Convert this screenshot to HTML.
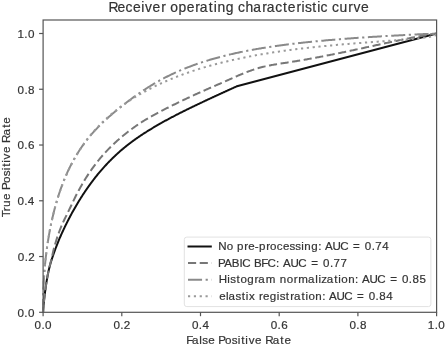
<!DOCTYPE html>
<html><head><meta charset="utf-8"><style>
html,body{margin:0;padding:0;background:#fff;width:445px;height:345px;overflow:hidden}
svg{display:block;filter:grayscale(1) blur(0.35px)}
text{font-family:"Liberation Sans",sans-serif;fill:#333;stroke:#333;stroke-width:0.2px}
</style></head><body>
<svg width="445" height="345" viewBox="0 0 445 345">
<rect width="445" height="345" fill="#fff"/>
<g>
<path d="M43.10,312.30 L43.10,312.16 L43.10,312.15 L43.10,312.14 L43.10,312.14 L43.10,312.13 L43.11,312.12 L43.11,312.11 L43.11,312.10 L43.11,312.09 L43.11,312.08 L43.11,312.07 L43.11,312.06 L43.11,312.05 L43.11,312.03 L43.11,312.02 L43.11,312.01 L43.11,311.99 L43.11,311.98 L43.11,311.96 L43.11,311.94 L43.11,311.93 L43.11,311.91 L43.11,311.89 L43.11,311.87 L43.12,311.85 L43.12,311.82 L43.12,311.80 L43.12,311.78 L43.12,311.75 L43.12,311.72 L43.12,311.70 L43.12,311.67 L43.12,311.64 L43.13,311.60 L43.13,311.57 L43.13,311.53 L43.13,311.50 L43.13,311.46 L43.13,311.42 L43.14,311.37 L43.14,311.33 L43.14,311.28 L43.14,311.23 L43.15,311.18 L43.15,311.13 L43.15,311.07 L43.15,311.02 L43.16,310.95 L43.16,310.89 L43.16,310.82 L43.17,310.75 L43.17,310.68 L43.18,310.60 L43.18,310.52 L43.19,310.44 L43.19,310.35 L43.20,310.26 L43.20,310.16 L43.21,310.06 L43.21,309.96 L43.22,309.85 L43.23,309.73 L43.24,309.61 L43.24,309.49 L43.25,309.36 L43.26,309.22 L43.27,309.08 L43.28,308.93 L43.29,308.78 L43.30,308.61 L43.32,308.45 L43.33,308.27 L43.34,308.08 L43.36,307.89 L43.37,307.69 L43.39,307.48 L43.40,307.26 L43.42,307.03 L43.44,306.80 L43.46,306.55 L43.48,306.29 L43.50,306.02 L43.53,305.74 L43.55,305.44 L43.58,305.14 L43.61,304.82 L43.64,304.49 L43.67,304.14 L43.70,303.78 L43.74,303.41 L43.77,303.01 L43.81,302.61 L43.86,302.18 L43.90,301.74 L43.95,301.28 L44.00,300.80 L44.05,300.31 L44.11,299.79 L44.17,299.25 L44.23,298.69 L44.30,298.11 L44.37,297.50 L44.44,296.87 L44.52,296.22 L44.60,295.54 L44.69,294.83 L44.78,294.10 L44.88,293.33 L44.99,292.54 L45.10,291.72 L45.22,290.87 L45.34,289.98 L45.47,289.00 L45.61,287.96 L45.76,286.90 L45.92,285.80 L46.08,284.67 L46.26,283.52 L46.44,282.33 L46.64,281.12 L46.85,279.88 L47.07,278.61 L47.30,277.32 L47.55,276.00 L47.81,274.66 L48.09,273.29 L48.38,271.91 L48.69,270.50 L49.02,269.08 L49.37,267.65 L49.74,266.22 L50.13,264.78 L50.55,263.32 L50.98,261.84 L51.45,260.33 L51.94,258.80 L52.46,257.22 L53.01,255.60 L53.59,253.93 L54.21,252.19 L54.86,250.37 L55.55,248.49 L56.29,246.55 L57.06,244.56 L57.88,242.51 L58.75,240.40 L59.67,238.23 L60.65,235.99 L61.68,233.68 L62.78,231.29 L63.21,230.35 L63.65,229.42 L64.08,228.49 L64.52,227.58 L64.96,226.67 L65.39,225.77 L65.83,224.88 L66.27,223.99 L66.70,223.11 L67.14,222.24 L67.58,221.38 L68.01,220.52 L68.45,219.67 L68.88,218.82 L69.32,217.99 L69.76,217.16 L70.19,216.33 L70.63,215.52 L71.07,214.71 L71.50,213.90 L71.94,213.10 L72.38,212.31 L72.81,211.53 L73.25,210.75 L73.69,209.98 L74.12,209.21 L74.56,208.45 L74.99,207.69 L75.43,206.93 L75.87,206.18 L76.30,205.44 L76.74,204.70 L77.18,203.96 L77.61,203.23 L78.05,202.50 L78.49,201.78 L78.92,201.07 L79.36,200.35 L79.79,199.65 L80.23,198.94 L80.67,198.25 L81.10,197.55 L81.54,196.87 L81.98,196.18 L82.41,195.51 L82.85,194.83 L83.29,194.17 L83.72,193.50 L84.16,192.85 L84.60,192.19 L85.03,191.55 L85.47,190.91 L85.90,190.27 L86.34,189.64 L86.78,189.01 L87.21,188.38 L87.65,187.76 L88.09,187.14 L88.52,186.52 L88.96,185.91 L89.40,185.30 L89.83,184.70 L90.27,184.10 L90.70,183.50 L91.14,182.91 L91.58,182.32 L92.01,181.73 L92.45,181.15 L92.89,180.57 L93.32,179.99 L93.76,179.42 L94.20,178.86 L94.63,178.29 L95.07,177.73 L95.51,177.18 L95.94,176.63 L96.38,176.08 L96.81,175.54 L97.25,175.00 L97.69,174.46 L98.12,173.93 L98.56,173.40 L99.00,172.88 L99.43,172.36 L99.87,171.85 L100.31,171.33 L100.74,170.83 L101.18,170.32 L101.61,169.82 L102.05,169.33 L102.49,168.83 L102.92,168.34 L103.36,167.85 L103.80,167.37 L104.23,166.89 L104.67,166.41 L105.11,165.93 L105.54,165.46 L105.98,164.99 L106.42,164.52 L106.85,164.05 L107.29,163.59 L107.72,163.13 L108.16,162.67 L108.60,162.22 L109.03,161.77 L109.47,161.32 L109.91,160.88 L110.34,160.43 L110.78,159.99 L111.22,159.56 L111.65,159.12 L112.09,158.69 L112.52,158.26 L112.96,157.83 L113.40,157.41 L113.83,156.99 L114.27,156.57 L114.71,156.16 L115.14,155.74 L115.58,155.33 L116.02,154.92 L116.45,154.52 L116.89,154.12 L117.33,153.72 L117.76,153.32 L118.20,152.92 L118.63,152.53 L119.07,152.14 L119.51,151.75 L119.94,151.37 L120.38,150.99 L120.82,150.61 L121.25,150.23 L121.69,149.86 L122.13,149.48 L122.56,149.11 L123.00,148.75 L123.43,148.38 L123.87,148.02 L124.31,147.66 L124.74,147.31 L125.18,146.95 L125.62,146.60 L126.05,146.25 L126.49,145.91 L126.93,145.56 L127.36,145.22 L127.80,144.88 L128.24,144.54 L128.67,144.20 L129.11,143.86 L129.54,143.53 L129.98,143.20 L130.42,142.87 L130.85,142.54 L131.29,142.21 L131.73,141.89 L132.16,141.56 L132.60,141.24 L133.04,140.92 L133.47,140.60 L133.91,140.28 L134.34,139.96 L134.78,139.65 L135.22,139.34 L135.65,139.03 L136.09,138.72 L136.53,138.41 L136.96,138.10 L137.40,137.80 L137.84,137.50 L138.27,137.20 L138.71,136.90 L139.15,136.60 L139.58,136.31 L140.02,136.01 L140.45,135.72 L140.89,135.43 L141.33,135.14 L141.76,134.85 L142.20,134.56 L142.64,134.27 L143.07,133.99 L143.51,133.70 L143.95,133.42 L144.38,133.14 L144.82,132.86 L145.25,132.58 L145.69,132.30 L146.13,132.03 L146.56,131.75 L147.00,131.47 L147.44,131.20 L147.87,130.93 L148.31,130.66 L148.75,130.39 L149.18,130.12 L149.62,129.85 L150.06,129.58 L150.49,129.31 L150.93,129.05 L151.36,128.78 L151.80,128.52 L152.24,128.26 L152.67,128.00 L153.11,127.73 L153.55,127.47 L153.98,127.22 L154.42,126.96 L154.86,126.70 L155.29,126.44 L155.73,126.19 L156.16,125.93 L156.60,125.68 L157.04,125.42 L157.47,125.17 L157.91,124.92 L158.35,124.67 L158.78,124.42 L159.22,124.17 L159.66,123.92 L160.09,123.67 L160.53,123.42 L160.97,123.18 L161.40,122.93 L161.84,122.69 L162.27,122.44 L162.71,122.20 L163.15,121.95 L163.58,121.71 L164.02,121.47 L164.46,121.23 L164.89,120.98 L165.33,120.74 L165.77,120.50 L166.20,120.26 L166.64,120.03 L167.07,119.79 L167.51,119.55 L167.95,119.32 L168.38,119.08 L168.82,118.85 L169.26,118.61 L169.69,118.38 L170.13,118.15 L170.57,117.92 L171.00,117.68 L171.44,117.45 L171.88,117.22 L172.31,117.00 L172.75,116.77 L173.18,116.54 L173.62,116.31 L174.06,116.09 L174.49,115.86 L174.93,115.63 L175.37,115.41 L175.80,115.18 L176.24,114.96 L176.68,114.73 L177.11,114.51 L177.55,114.29 L177.98,114.06 L178.42,113.84 L178.86,113.62 L179.29,113.40 L179.73,113.17 L180.17,112.95 L180.60,112.73 L181.04,112.51 L181.48,112.29 L181.91,112.07 L182.35,111.85 L182.79,111.63 L183.22,111.41 L183.66,111.19 L184.09,110.98 L184.53,110.76 L184.97,110.54 L185.40,110.33 L185.84,110.11 L186.28,109.90 L186.71,109.68 L187.15,109.47 L187.59,109.25 L188.02,109.04 L188.46,108.82 L188.89,108.61 L189.33,108.40 L189.77,108.19 L190.20,107.97 L190.64,107.76 L191.08,107.55 L191.51,107.34 L191.95,107.13 L192.39,106.92 L192.82,106.71 L193.26,106.50 L193.70,106.29 L194.13,106.08 L194.57,105.87 L195.00,105.66 L195.44,105.45 L195.88,105.24 L196.31,105.03 L196.75,104.82 L197.19,104.61 L197.62,104.40 L198.06,104.19 L198.50,103.99 L198.93,103.78 L199.37,103.57 L199.80,103.36 L200.24,103.15 L200.68,102.95 L201.11,102.74 L201.55,102.53 L201.99,102.33 L202.42,102.12 L202.86,101.91 L203.30,101.71 L203.73,101.50 L204.17,101.30 L204.61,101.09 L205.04,100.89 L205.48,100.68 L205.91,100.48 L206.35,100.27 L206.79,100.07 L207.22,99.87 L207.66,99.66 L208.10,99.46 L208.53,99.26 L208.97,99.05 L209.41,98.85 L209.84,98.65 L210.28,98.45 L210.71,98.24 L211.15,98.04 L211.59,97.84 L212.02,97.64 L212.46,97.44 L212.90,97.23 L213.33,97.03 L213.77,96.83 L214.21,96.63 L214.64,96.43 L215.08,96.23 L215.52,96.03 L215.95,95.83 L216.39,95.63 L216.82,95.43 L217.26,95.23 L217.70,95.03 L218.13,94.82 L218.57,94.62 L219.01,94.42 L219.44,94.22 L219.88,94.02 L220.32,93.82 L220.75,93.62 L221.19,93.42 L221.62,93.22 L222.06,93.02 L222.50,92.83 L222.93,92.63 L223.37,92.43 L223.81,92.23 L224.24,92.03 L224.68,91.83 L225.12,91.63 L225.55,91.43 L225.99,91.23 L226.43,91.03 L226.86,90.83 L227.30,90.63 L227.73,90.43 L228.17,90.23 L228.61,90.03 L229.04,89.84 L229.48,89.64 L229.92,89.44 L230.35,89.24 L230.79,89.04 L231.23,88.84 L231.66,88.65 L232.10,88.45 L232.53,88.25 L232.97,88.05 L233.41,87.86 L233.84,87.66 L234.28,87.46 L234.72,87.26 L235.15,87.07 L235.59,86.87 L236.03,86.68 L236.46,86.48 L236.90,86.28 L436.60,33.50" stroke="#111" stroke-width="2.0" fill="none" stroke-linejoin="round" />
<path d="M43.10,312.30 L43.10,312.19 L43.10,312.18 L43.10,312.17 L43.10,312.17 L43.10,312.16 L43.11,312.15 L43.11,312.15 L43.11,312.14 L43.11,312.13 L43.11,312.12 L43.11,312.11 L43.11,312.10 L43.11,312.09 L43.11,312.08 L43.11,312.07 L43.11,312.06 L43.11,312.04 L43.11,312.03 L43.11,312.02 L43.11,312.00 L43.11,311.99 L43.11,311.97 L43.11,311.95 L43.11,311.94 L43.12,311.92 L43.12,311.90 L43.12,311.88 L43.12,311.85 L43.12,311.83 L43.12,311.81 L43.12,311.78 L43.12,311.76 L43.12,311.73 L43.13,311.70 L43.13,311.67 L43.13,311.64 L43.13,311.60 L43.13,311.57 L43.13,311.53 L43.14,311.49 L43.14,311.45 L43.14,311.41 L43.14,311.36 L43.15,311.32 L43.15,311.27 L43.15,311.22 L43.15,311.16 L43.16,311.11 L43.16,311.05 L43.16,310.99 L43.17,310.92 L43.17,310.85 L43.18,310.78 L43.18,310.71 L43.19,310.63 L43.19,310.54 L43.20,310.46 L43.20,310.37 L43.21,310.27 L43.21,310.17 L43.22,310.07 L43.23,309.96 L43.24,309.85 L43.24,309.73 L43.25,309.61 L43.26,309.48 L43.27,309.34 L43.28,309.20 L43.29,309.05 L43.30,308.89 L43.32,308.73 L43.33,308.56 L43.34,308.38 L43.36,308.20 L43.37,308.00 L43.39,307.80 L43.40,307.59 L43.42,307.36 L43.44,307.13 L43.46,306.89 L43.48,306.64 L43.50,306.37 L43.53,306.10 L43.55,305.81 L43.58,305.51 L43.61,305.19 L43.64,304.86 L43.67,304.52 L43.70,304.17 L43.74,303.79 L43.77,303.41 L43.81,303.00 L43.86,302.58 L43.90,302.14 L43.95,301.68 L44.00,301.20 L44.05,300.71 L44.11,300.19 L44.17,299.65 L44.23,299.08 L44.30,298.50 L44.37,297.89 L44.44,297.25 L44.52,296.59 L44.60,295.90 L44.69,295.19 L44.78,294.45 L44.88,293.67 L44.99,292.87 L45.10,292.03 L45.22,291.16 L45.34,290.26 L45.47,289.28 L45.61,288.25 L45.76,287.19 L45.92,286.09 L46.08,284.96 L46.26,283.80 L46.44,282.60 L46.64,281.37 L46.85,280.10 L47.07,278.80 L47.30,277.47 L47.55,276.09 L47.81,274.69 L48.09,273.24 L48.38,271.76 L48.69,270.24 L49.02,268.72 L49.37,267.22 L49.74,265.72 L50.13,264.18 L50.55,262.58 L50.98,260.90 L51.45,259.08 L51.94,257.09 L52.46,254.80 L53.01,252.21 L53.59,249.79 L54.21,247.42 L54.86,245.04 L55.55,242.67 L56.29,240.29 L57.06,237.89 L57.88,235.46 L58.75,233.01 L59.67,230.51 L60.65,227.99 L61.68,225.50 L62.78,223.03 L63.71,221.00 L64.65,219.03 L65.59,217.10 L66.52,215.19 L67.46,213.27 L68.40,211.35 L69.33,209.41 L70.27,207.45 L71.21,205.48 L72.14,203.51 L73.08,201.55 L74.02,199.61 L74.95,197.69 L75.89,195.81 L76.83,193.97 L77.77,192.18 L78.70,190.43 L79.64,188.73 L80.58,187.06 L81.51,185.41 L82.45,183.79 L83.39,182.20 L84.32,180.63 L85.26,179.09 L86.20,177.59 L87.13,176.11 L88.07,174.66 L89.01,173.24 L89.95,171.86 L90.88,170.50 L91.82,169.18 L92.76,167.87 L93.69,166.59 L94.63,165.33 L95.57,164.09 L96.50,162.88 L97.44,161.68 L98.38,160.50 L99.31,159.35 L100.25,158.22 L101.19,157.10 L102.12,156.01 L103.06,154.93 L104.00,153.88 L104.94,152.84 L105.87,151.83 L106.81,150.83 L107.75,149.85 L108.68,148.89 L109.62,147.94 L110.56,147.00 L111.49,146.08 L112.43,145.17 L113.37,144.28 L114.30,143.40 L115.24,142.53 L116.18,141.67 L117.12,140.82 L118.05,139.99 L118.99,139.17 L119.93,138.36 L120.86,137.56 L121.80,136.77 L122.74,135.99 L123.67,135.22 L124.61,134.46 L125.55,133.71 L126.48,132.97 L127.42,132.24 L128.36,131.51 L129.30,130.80 L130.23,130.10 L131.17,129.40 L132.11,128.71 L133.04,128.03 L133.98,127.36 L134.92,126.70 L135.85,126.04 L136.79,125.39 L137.73,124.75 L138.66,124.12 L139.60,123.49 L140.54,122.87 L141.47,122.26 L142.41,121.66 L143.35,121.07 L144.29,120.49 L145.22,119.91 L146.16,119.34 L147.10,118.78 L148.03,118.23 L148.97,117.69 L149.91,117.15 L150.84,116.61 L151.78,116.08 L152.72,115.56 L153.65,115.04 L154.59,114.53 L155.53,114.02 L156.47,113.52 L157.40,113.02 L158.34,112.52 L159.28,112.03 L160.21,111.54 L161.15,111.06 L162.09,110.58 L163.02,110.10 L163.96,109.62 L164.90,109.15 L165.83,108.67 L166.77,108.20 L167.71,107.74 L168.65,107.27 L169.58,106.80 L170.52,106.34 L171.46,105.88 L172.39,105.42 L173.33,104.96 L174.27,104.50 L175.20,104.04 L176.14,103.58 L177.08,103.12 L178.01,102.66 L178.95,102.21 L179.89,101.75 L180.82,101.29 L181.76,100.84 L182.70,100.39 L183.64,99.94 L184.57,99.49 L185.51,99.05 L186.45,98.60 L187.38,98.16 L188.32,97.72 L189.26,97.29 L190.19,96.85 L191.13,96.42 L192.07,95.99 L193.00,95.56 L193.94,95.13 L194.88,94.71 L195.82,94.28 L196.75,93.86 L197.69,93.44 L198.63,93.02 L199.56,92.60 L200.50,92.18 L201.44,91.76 L202.37,91.34 L203.31,90.93 L204.25,90.51 L205.18,90.10 L206.12,89.69 L207.06,89.27 L208.00,88.86 L208.93,88.45 L209.87,88.04 L210.81,87.63 L211.74,87.22 L212.68,86.81 L213.62,86.41 L214.55,86.00 L215.49,85.59 L216.43,85.18 L217.36,84.78 L218.30,84.37 L219.24,83.97 L220.17,83.56 L221.11,83.15 L222.05,82.74 L222.99,82.32 L223.92,81.90 L224.86,81.48 L225.80,81.06 L226.73,80.64 L227.67,80.22 L228.61,79.80 L229.54,79.39 L230.48,78.97 L231.42,78.55 L232.35,78.13 L233.29,77.72 L234.23,77.30 L235.17,76.89 L236.10,76.48 L237.04,76.07 L237.98,75.67 L238.91,75.27 L239.85,74.88 L240.79,74.49 L241.72,74.11 L242.66,73.72 L243.60,73.34 L244.53,72.96 L245.47,72.58 L246.41,72.22 L247.35,71.85 L248.28,71.50 L249.22,71.16 L250.16,70.82 L251.09,70.50 L252.03,70.17 L252.97,69.85 L253.90,69.54 L254.84,69.23 L255.78,68.93 L256.71,68.64 L257.65,68.35 L258.59,68.07 L259.52,67.80 L260.46,67.54 L261.40,67.30 L262.34,67.06 L263.27,66.84 L264.21,66.62 L265.15,66.40 L266.08,66.19 L267.02,65.99 L267.96,65.80 L268.89,65.60 L269.83,65.42 L270.77,65.24 L271.70,65.06 L272.64,64.88 L273.58,64.71 L274.52,64.55 L275.45,64.39 L276.39,64.24 L277.33,64.08 L278.26,63.94 L279.20,63.79 L280.14,63.65 L281.07,63.50 L282.01,63.36 L282.95,63.22 L283.88,63.07 L284.82,62.93 L285.76,62.79 L286.70,62.64 L287.63,62.50 L288.57,62.35 L289.51,62.21 L290.44,62.06 L291.38,61.91 L292.32,61.76 L293.25,61.61 L294.19,61.46 L295.13,61.31 L296.06,61.15 L297.00,61.00 L297.94,60.84 L298.88,60.69 L299.81,60.53 L300.75,60.37 L301.69,60.21 L302.62,60.05 L303.56,59.89 L304.50,59.73 L305.43,59.56 L306.37,59.40 L307.31,59.23 L308.24,59.06 L309.18,58.89 L310.12,58.72 L311.05,58.55 L311.99,58.38 L312.93,58.20 L313.87,58.03 L314.80,57.86 L315.74,57.68 L316.68,57.51 L317.61,57.33 L318.55,57.15 L319.49,56.98 L320.42,56.80 L321.36,56.62 L322.30,56.44 L323.23,56.26 L324.17,56.08 L325.11,55.90 L326.05,55.72 L326.98,55.54 L327.92,55.35 L328.86,55.17 L329.79,54.99 L330.73,54.80 L331.67,54.62 L332.60,54.43 L333.54,54.24 L334.48,54.06 L335.41,53.87 L336.35,53.68 L337.29,53.49 L338.23,53.30 L339.16,53.11 L340.10,52.92 L341.04,52.73 L341.97,52.54 L342.91,52.34 L343.85,52.15 L344.78,51.96 L345.72,51.76 L346.66,51.56 L347.59,51.37 L348.53,51.17 L349.47,50.97 L350.40,50.77 L351.34,50.57 L352.28,50.38 L353.22,50.18 L354.15,49.97 L355.09,49.77 L356.03,49.57 L356.96,49.37 L357.90,49.17 L358.84,48.97 L359.77,48.76 L360.71,48.56 L361.65,48.36 L362.58,48.15 L363.52,47.95 L364.46,47.75 L365.40,47.54 L366.33,47.34 L367.27,47.13 L368.21,46.93 L369.14,46.73 L370.08,46.52 L371.02,46.32 L371.95,46.11 L372.89,45.91 L373.83,45.71 L374.76,45.50 L375.70,45.30 L376.64,45.10 L377.57,44.90 L378.51,44.70 L379.45,44.49 L380.39,44.29 L381.32,44.09 L382.26,43.89 L383.20,43.69 L384.13,43.49 L385.07,43.29 L386.01,43.09 L386.94,42.89 L387.88,42.69 L388.82,42.49 L389.75,42.29 L390.69,42.09 L391.63,41.90 L392.57,41.70 L393.50,41.50 L394.44,41.30 L395.38,41.10 L396.31,40.91 L397.25,40.71 L398.19,40.51 L399.12,40.31 L400.06,40.12 L401.00,39.92 L401.93,39.73 L402.87,39.53 L403.81,39.34 L404.75,39.14 L405.68,38.95 L406.62,38.75 L407.56,38.56 L408.49,38.37 L409.43,38.18 L410.37,37.99 L411.30,37.79 L412.24,37.60 L413.18,37.42 L414.11,37.23 L415.05,37.04 L415.99,36.87 L416.93,36.70 L417.86,36.53 L418.80,36.36 L419.74,36.19 L420.67,36.03 L421.61,35.86 L422.55,35.70 L423.48,35.54 L424.42,35.38 L425.36,35.23 L426.29,35.07 L427.23,34.92 L428.17,34.76 L429.10,34.61 L430.04,34.47 L430.98,34.32 L431.92,34.18 L432.85,34.04 L433.79,33.90 L434.73,33.76 L435.66,33.63 L436.60,33.50" stroke="#777" stroke-width="2.0" fill="none" stroke-dasharray="8.14 3.57" stroke-dashoffset="1.2" />
<path d="M43.10,312.30 L43.10,309.52 L43.10,309.44 L43.10,309.36 L43.10,309.27 L43.10,309.19 L43.11,309.10 L43.11,309.01 L43.11,308.92 L43.11,308.82 L43.11,308.72 L43.11,308.62 L43.11,308.52 L43.11,308.41 L43.11,308.30 L43.11,308.19 L43.11,308.08 L43.11,307.96 L43.11,307.84 L43.11,307.71 L43.11,307.58 L43.11,307.45 L43.11,307.32 L43.11,307.18 L43.11,307.04 L43.12,306.89 L43.12,306.74 L43.12,306.59 L43.12,306.43 L43.12,306.27 L43.12,306.10 L43.12,305.93 L43.12,305.75 L43.12,305.57 L43.13,305.39 L43.13,305.20 L43.13,305.00 L43.13,304.80 L43.13,304.60 L43.13,304.39 L43.14,304.17 L43.14,303.95 L43.14,303.72 L43.14,303.49 L43.15,303.25 L43.15,303.00 L43.15,302.75 L43.15,302.49 L43.16,302.23 L43.16,301.96 L43.16,301.68 L43.17,301.39 L43.17,301.10 L43.18,300.80 L43.18,300.49 L43.19,300.17 L43.19,299.85 L43.20,299.51 L43.20,299.17 L43.21,298.82 L43.21,298.46 L43.22,298.09 L43.23,297.72 L43.24,297.33 L43.24,296.93 L43.25,296.53 L43.26,296.11 L43.27,295.68 L43.28,295.25 L43.29,294.80 L43.30,294.34 L43.32,293.87 L43.33,293.38 L43.34,292.89 L43.36,292.38 L43.37,291.86 L43.39,291.33 L43.40,290.79 L43.42,290.23 L43.44,289.66 L43.46,289.08 L43.48,288.48 L43.50,287.86 L43.53,287.24 L43.55,286.59 L43.58,285.93 L43.61,285.26 L43.64,284.57 L43.67,283.86 L43.70,283.14 L43.74,282.40 L43.77,281.64 L43.81,280.87 L43.86,280.08 L43.90,279.27 L43.95,278.44 L44.00,277.59 L44.05,276.72 L44.11,275.83 L44.17,274.92 L44.23,273.99 L44.30,273.04 L44.37,272.07 L44.44,271.08 L44.52,270.06 L44.60,269.08 L44.69,268.07 L44.78,267.02 L44.88,265.95 L44.99,264.85 L45.10,263.71 L45.22,262.55 L45.34,261.35 L45.47,260.11 L45.61,258.85 L45.76,257.54 L45.92,256.20 L46.08,254.82 L46.26,253.41 L46.44,251.96 L46.64,250.47 L46.85,248.93 L47.07,247.34 L47.30,245.71 L47.55,244.02 L47.81,242.29 L48.09,240.51 L48.38,238.67 L48.69,236.80 L49.02,234.87 L49.37,232.90 L49.74,230.89 L50.13,228.83 L50.55,226.73 L50.98,224.57 L51.45,222.36 L51.94,220.09 L52.46,217.77 L53.01,215.41 L53.59,212.99 L54.21,210.54 L54.86,208.03 L55.55,205.48 L56.29,202.87 L57.06,200.22 L57.88,197.52 L58.75,194.77 L59.67,191.99 L60.65,189.17 L61.68,186.30 L62.78,183.40 L63.71,181.00 L64.65,178.69 L65.59,176.46 L66.52,174.30 L67.46,172.21 L68.40,170.20 L69.33,168.24 L70.27,166.34 L71.21,164.50 L72.14,162.71 L73.08,160.96 L74.02,159.27 L74.95,157.62 L75.89,156.02 L76.83,154.46 L77.77,152.94 L78.70,151.45 L79.64,150.01 L80.58,148.60 L81.51,147.22 L82.45,145.87 L83.39,144.56 L84.32,143.27 L85.26,142.02 L86.20,140.79 L87.13,139.59 L88.07,138.42 L89.01,137.27 L89.95,136.14 L90.88,135.04 L91.82,133.95 L92.76,132.89 L93.69,131.85 L94.63,130.82 L95.57,129.81 L96.50,128.82 L97.44,127.84 L98.38,126.88 L99.31,125.93 L100.25,124.99 L101.19,124.07 L102.12,123.16 L103.06,122.26 L104.00,121.37 L104.94,120.50 L105.87,119.63 L106.81,118.78 L107.75,117.93 L108.68,117.09 L109.62,116.26 L110.56,115.44 L111.49,114.63 L112.43,113.82 L113.37,113.02 L114.30,112.23 L115.24,111.45 L116.18,110.67 L117.12,109.90 L118.05,109.14 L118.99,108.38 L119.93,107.63 L120.86,106.88 L121.80,106.13 L122.74,105.40 L123.67,104.66 L124.61,103.94 L125.55,103.22 L126.48,102.50 L127.42,101.79 L128.36,101.08 L129.30,100.38 L130.23,99.68 L131.17,98.98 L132.11,98.29 L133.04,97.61 L133.98,96.93 L134.92,96.25 L135.85,95.59 L136.79,94.93 L137.73,94.27 L138.66,93.62 L139.60,92.97 L140.54,92.34 L141.47,91.70 L142.41,91.07 L143.35,90.45 L144.29,89.83 L145.22,89.21 L146.16,88.61 L147.10,88.01 L148.03,87.41 L148.97,86.82 L149.91,86.24 L150.84,85.67 L151.78,85.10 L152.72,84.53 L153.65,83.97 L154.59,83.42 L155.53,82.87 L156.47,82.33 L157.40,81.79 L158.34,81.26 L159.28,80.73 L160.21,80.21 L161.15,79.70 L162.09,79.19 L163.02,78.69 L163.96,78.19 L164.90,77.70 L165.83,77.22 L166.77,76.74 L167.71,76.26 L168.65,75.80 L169.58,75.33 L170.52,74.88 L171.46,74.43 L172.39,73.98 L173.33,73.54 L174.27,73.10 L175.20,72.67 L176.14,72.25 L177.08,71.83 L178.01,71.41 L178.95,71.00 L179.89,70.60 L180.82,70.20 L181.76,69.81 L182.70,69.42 L183.64,69.03 L184.57,68.65 L185.51,68.27 L186.45,67.90 L187.38,67.53 L188.32,67.17 L189.26,66.81 L190.19,66.45 L191.13,66.10 L192.07,65.75 L193.00,65.40 L193.94,65.06 L194.88,64.73 L195.82,64.39 L196.75,64.06 L197.69,63.74 L198.63,63.41 L199.56,63.10 L200.50,62.78 L201.44,62.47 L202.37,62.16 L203.31,61.86 L204.25,61.56 L205.18,61.26 L206.12,60.96 L207.06,60.67 L208.00,60.38 L208.93,60.10 L209.87,59.82 L210.81,59.54 L211.74,59.26 L212.68,58.99 L213.62,58.72 L214.55,58.46 L215.49,58.19 L216.43,57.93 L217.36,57.68 L218.30,57.42 L219.24,57.17 L220.17,56.93 L221.11,56.68 L222.05,56.44 L222.99,56.20 L223.92,55.96 L224.86,55.73 L225.80,55.49 L226.73,55.26 L227.67,55.04 L228.61,54.81 L229.54,54.59 L230.48,54.37 L231.42,54.15 L232.35,53.93 L233.29,53.72 L234.23,53.51 L235.17,53.30 L236.10,53.09 L237.04,52.88 L237.98,52.68 L238.91,52.48 L239.85,52.28 L240.79,52.08 L241.72,51.89 L242.66,51.70 L243.60,51.51 L244.53,51.32 L245.47,51.13 L246.41,50.95 L247.35,50.76 L248.28,50.58 L249.22,50.40 L250.16,50.23 L251.09,50.05 L252.03,49.88 L252.97,49.71 L253.90,49.54 L254.84,49.37 L255.78,49.21 L256.71,49.04 L257.65,48.88 L258.59,48.72 L259.52,48.56 L260.46,48.41 L261.40,48.25 L262.34,48.10 L263.27,47.95 L264.21,47.80 L265.15,47.65 L266.08,47.50 L267.02,47.35 L267.96,47.21 L268.89,47.06 L269.83,46.92 L270.77,46.78 L271.70,46.64 L272.64,46.50 L273.58,46.37 L274.52,46.23 L275.45,46.10 L276.39,45.96 L277.33,45.83 L278.26,45.70 L279.20,45.57 L280.14,45.44 L281.07,45.32 L282.01,45.19 L282.95,45.06 L283.88,44.94 L284.82,44.82 L285.76,44.70 L286.70,44.57 L287.63,44.45 L288.57,44.34 L289.51,44.22 L290.44,44.10 L291.38,43.98 L292.32,43.87 L293.25,43.76 L294.19,43.64 L295.13,43.53 L296.06,43.42 L297.00,43.31 L297.94,43.20 L298.88,43.10 L299.81,42.99 L300.75,42.89 L301.69,42.78 L302.62,42.68 L303.56,42.58 L304.50,42.48 L305.43,42.38 L306.37,42.28 L307.31,42.18 L308.24,42.09 L309.18,41.99 L310.12,41.89 L311.05,41.80 L311.99,41.70 L312.93,41.61 L313.87,41.52 L314.80,41.43 L315.74,41.33 L316.68,41.24 L317.61,41.15 L318.55,41.06 L319.49,40.98 L320.42,40.89 L321.36,40.80 L322.30,40.71 L323.23,40.63 L324.17,40.54 L325.11,40.46 L326.05,40.37 L326.98,40.29 L327.92,40.21 L328.86,40.12 L329.79,40.04 L330.73,39.96 L331.67,39.88 L332.60,39.80 L333.54,39.72 L334.48,39.64 L335.41,39.56 L336.35,39.49 L337.29,39.41 L338.23,39.33 L339.16,39.26 L340.10,39.18 L341.04,39.11 L341.97,39.03 L342.91,38.96 L343.85,38.89 L344.78,38.81 L345.72,38.74 L346.66,38.67 L347.59,38.60 L348.53,38.53 L349.47,38.46 L350.40,38.39 L351.34,38.32 L352.28,38.25 L353.22,38.18 L354.15,38.12 L355.09,38.05 L356.03,37.98 L356.96,37.92 L357.90,37.85 L358.84,37.79 L359.77,37.73 L360.71,37.66 L361.65,37.60 L362.58,37.54 L363.52,37.47 L364.46,37.41 L365.40,37.35 L366.33,37.29 L367.27,37.23 L368.21,37.17 L369.14,37.11 L370.08,37.05 L371.02,36.99 L371.95,36.93 L372.89,36.87 L373.83,36.81 L374.76,36.75 L375.70,36.69 L376.64,36.64 L377.57,36.58 L378.51,36.52 L379.45,36.46 L380.39,36.41 L381.32,36.35 L382.26,36.30 L383.20,36.24 L384.13,36.19 L385.07,36.13 L386.01,36.08 L386.94,36.02 L387.88,35.97 L388.82,35.92 L389.75,35.86 L390.69,35.81 L391.63,35.75 L392.57,35.70 L393.50,35.65 L394.44,35.60 L395.38,35.54 L396.31,35.49 L397.25,35.44 L398.19,35.39 L399.12,35.34 L400.06,35.29 L401.00,35.24 L401.93,35.18 L402.87,35.13 L403.81,35.08 L404.75,35.03 L405.68,34.98 L406.62,34.94 L407.56,34.89 L408.49,34.84 L409.43,34.79 L410.37,34.74 L411.30,34.69 L412.24,34.64 L413.18,34.60 L414.11,34.55 L415.05,34.50 L415.99,34.46 L416.93,34.41 L417.86,34.37 L418.80,34.32 L419.74,34.28 L420.67,34.23 L421.61,34.19 L422.55,34.14 L423.48,34.10 L424.42,34.06 L425.36,34.01 L426.29,33.97 L427.23,33.93 L428.17,33.89 L429.10,33.85 L430.04,33.80 L430.98,33.76 L431.92,33.72 L432.85,33.68 L433.79,33.64 L434.73,33.60 L435.66,33.55 L436.60,33.50" stroke="#8a8a8a" stroke-width="2.0" fill="none" stroke-dasharray="14.06 3.56 2.18 3.56" stroke-dashoffset="0.7" />
<path d="M43.10,312.30 L43.10,309.76 L43.10,309.68 L43.10,309.61 L43.10,309.53 L43.10,309.45 L43.11,309.36 L43.11,309.28 L43.11,309.19 L43.11,309.10 L43.11,309.00 L43.11,308.91 L43.11,308.81 L43.11,308.71 L43.11,308.60 L43.11,308.50 L43.11,308.39 L43.11,308.27 L43.11,308.16 L43.11,308.04 L43.11,307.91 L43.11,307.79 L43.11,307.66 L43.11,307.52 L43.11,307.39 L43.12,307.25 L43.12,307.10 L43.12,306.95 L43.12,306.80 L43.12,306.64 L43.12,306.48 L43.12,306.31 L43.12,306.14 L43.12,305.97 L43.13,305.79 L43.13,305.60 L43.13,305.41 L43.13,305.22 L43.13,305.02 L43.13,304.81 L43.14,304.60 L43.14,304.38 L43.14,304.16 L43.14,303.93 L43.15,303.70 L43.15,303.46 L43.15,303.21 L43.15,302.95 L43.16,302.69 L43.16,302.42 L43.16,302.15 L43.17,301.87 L43.17,301.58 L43.18,301.28 L43.18,300.97 L43.19,300.66 L43.19,300.34 L43.20,300.01 L43.20,299.67 L43.21,299.32 L43.21,298.96 L43.22,298.60 L43.23,298.22 L43.24,297.84 L43.24,297.44 L43.25,297.04 L43.26,296.62 L43.27,296.20 L43.28,295.76 L43.29,295.31 L43.30,294.85 L43.32,294.38 L43.33,293.90 L43.34,293.40 L43.36,292.89 L43.37,292.37 L43.39,291.84 L43.40,291.29 L43.42,290.73 L43.44,290.16 L43.46,289.57 L43.48,288.96 L43.50,288.35 L43.53,287.71 L43.55,287.06 L43.58,286.40 L43.61,285.72 L43.64,285.02 L43.67,284.30 L43.70,283.57 L43.74,282.82 L43.77,282.06 L43.81,281.27 L43.86,280.47 L43.90,279.64 L43.95,278.80 L44.00,277.94 L44.05,277.06 L44.11,276.15 L44.17,275.23 L44.23,274.28 L44.30,273.31 L44.37,272.32 L44.44,271.31 L44.52,270.28 L44.60,269.26 L44.69,268.21 L44.78,267.13 L44.88,266.02 L44.99,264.89 L45.10,263.72 L45.22,262.52 L45.34,261.29 L45.47,260.03 L45.61,258.73 L45.76,257.40 L45.92,256.04 L46.08,254.64 L46.26,253.20 L46.44,251.73 L46.64,250.21 L46.85,248.66 L47.07,247.06 L47.30,245.42 L47.55,243.73 L47.81,242.00 L48.09,240.22 L48.38,238.39 L48.69,236.53 L49.02,234.61 L49.37,232.66 L49.74,230.66 L50.13,228.61 L50.55,226.53 L50.98,224.39 L51.45,222.20 L51.94,219.96 L52.46,217.67 L53.01,215.33 L53.59,212.95 L54.21,210.52 L54.86,208.05 L55.55,205.52 L56.29,202.95 L57.06,200.32 L57.88,197.66 L58.75,194.94 L59.67,192.19 L60.65,189.39 L61.68,186.55 L62.78,183.66 L63.71,181.28 L64.65,178.98 L65.59,176.76 L66.52,174.61 L67.46,172.52 L68.40,170.50 L69.33,168.54 L70.27,166.64 L71.21,164.79 L72.14,162.99 L73.08,161.23 L74.02,159.53 L74.95,157.86 L75.89,156.24 L76.83,154.66 L77.77,153.12 L78.70,151.61 L79.64,150.14 L80.58,148.70 L81.51,147.30 L82.45,145.92 L83.39,144.57 L84.32,143.26 L85.26,141.97 L86.20,140.71 L87.13,139.47 L88.07,138.26 L89.01,137.07 L89.95,135.91 L90.88,134.76 L91.82,133.64 L92.76,132.55 L93.69,131.47 L94.63,130.40 L95.57,129.36 L96.50,128.34 L97.44,127.33 L98.38,126.34 L99.31,125.37 L100.25,124.41 L101.19,123.47 L102.12,122.54 L103.06,121.63 L104.00,120.74 L104.94,119.86 L105.87,118.99 L106.81,118.14 L107.75,117.30 L108.68,116.47 L109.62,115.65 L110.56,114.85 L111.49,114.05 L112.43,113.27 L113.37,112.50 L114.30,111.74 L115.24,110.99 L116.18,110.24 L117.12,109.51 L118.05,108.79 L118.99,108.08 L119.93,107.37 L120.86,106.68 L121.80,105.99 L122.74,105.32 L123.67,104.65 L124.61,103.99 L125.55,103.33 L126.48,102.69 L127.42,102.05 L128.36,101.42 L129.30,100.80 L130.23,100.19 L131.17,99.58 L132.11,98.98 L133.04,98.38 L133.98,97.80 L134.92,97.22 L135.85,96.64 L136.79,96.08 L137.73,95.51 L138.66,94.96 L139.60,94.41 L140.54,93.87 L141.47,93.33 L142.41,92.80 L143.35,92.28 L144.29,91.76 L145.22,91.25 L146.16,90.75 L147.10,90.24 L148.03,89.75 L148.97,89.26 L149.91,88.77 L150.84,88.29 L151.78,87.82 L152.72,87.35 L153.65,86.88 L154.59,86.42 L155.53,85.96 L156.47,85.51 L157.40,85.06 L158.34,84.62 L159.28,84.18 L160.21,83.74 L161.15,83.31 L162.09,82.89 L163.02,82.46 L163.96,82.05 L164.90,81.63 L165.83,81.22 L166.77,80.82 L167.71,80.41 L168.65,80.01 L169.58,79.62 L170.52,79.23 L171.46,78.84 L172.39,78.46 L173.33,78.08 L174.27,77.70 L175.20,77.33 L176.14,76.97 L177.08,76.60 L178.01,76.24 L178.95,75.88 L179.89,75.53 L180.82,75.18 L181.76,74.84 L182.70,74.49 L183.64,74.15 L184.57,73.82 L185.51,73.48 L186.45,73.15 L187.38,72.82 L188.32,72.50 L189.26,72.17 L190.19,71.85 L191.13,71.54 L192.07,71.22 L193.00,70.91 L193.94,70.60 L194.88,70.30 L195.82,70.00 L196.75,69.70 L197.69,69.40 L198.63,69.10 L199.56,68.81 L200.50,68.52 L201.44,68.24 L202.37,67.95 L203.31,67.67 L204.25,67.39 L205.18,67.11 L206.12,66.84 L207.06,66.57 L208.00,66.30 L208.93,66.03 L209.87,65.77 L210.81,65.51 L211.74,65.25 L212.68,64.99 L213.62,64.74 L214.55,64.48 L215.49,64.23 L216.43,63.99 L217.36,63.74 L218.30,63.50 L219.24,63.26 L220.17,63.02 L221.11,62.78 L222.05,62.55 L222.99,62.32 L223.92,62.09 L224.86,61.86 L225.80,61.63 L226.73,61.41 L227.67,61.19 L228.61,60.96 L229.54,60.75 L230.48,60.53 L231.42,60.31 L232.35,60.10 L233.29,59.89 L234.23,59.68 L235.17,59.47 L236.10,59.26 L237.04,59.06 L237.98,58.86 L238.91,58.65 L239.85,58.45 L240.79,58.26 L241.72,58.06 L242.66,57.87 L243.60,57.67 L244.53,57.48 L245.47,57.29 L246.41,57.10 L247.35,56.92 L248.28,56.73 L249.22,56.55 L250.16,56.37 L251.09,56.19 L252.03,56.01 L252.97,55.83 L253.90,55.66 L254.84,55.48 L255.78,55.31 L256.71,55.14 L257.65,54.97 L258.59,54.81 L259.52,54.65 L260.46,54.48 L261.40,54.32 L262.34,54.16 L263.27,54.01 L264.21,53.85 L265.15,53.69 L266.08,53.54 L267.02,53.39 L267.96,53.24 L268.89,53.08 L269.83,52.94 L270.77,52.79 L271.70,52.64 L272.64,52.49 L273.58,52.35 L274.52,52.20 L275.45,52.06 L276.39,51.92 L277.33,51.78 L278.26,51.64 L279.20,51.50 L280.14,51.36 L281.07,51.23 L282.01,51.09 L282.95,50.96 L283.88,50.82 L284.82,50.69 L285.76,50.56 L286.70,50.43 L287.63,50.30 L288.57,50.17 L289.51,50.05 L290.44,49.92 L291.38,49.79 L292.32,49.67 L293.25,49.55 L294.19,49.42 L295.13,49.30 L296.06,49.18 L297.00,49.06 L297.94,48.95 L298.88,48.83 L299.81,48.72 L300.75,48.61 L301.69,48.51 L302.62,48.40 L303.56,48.29 L304.50,48.19 L305.43,48.08 L306.37,47.98 L307.31,47.88 L308.24,47.77 L309.18,47.67 L310.12,47.57 L311.05,47.47 L311.99,47.37 L312.93,47.27 L313.87,47.17 L314.80,47.07 L315.74,46.97 L316.68,46.87 L317.61,46.78 L318.55,46.68 L319.49,46.59 L320.42,46.49 L321.36,46.40 L322.30,46.30 L323.23,46.21 L324.17,46.12 L325.11,46.02 L326.05,45.93 L326.98,45.84 L327.92,45.75 L328.86,45.66 L329.79,45.57 L330.73,45.48 L331.67,45.39 L332.60,45.31 L333.54,45.22 L334.48,45.13 L335.41,45.05 L336.35,44.96 L337.29,44.87 L338.23,44.79 L339.16,44.71 L340.10,44.62 L341.04,44.54 L341.97,44.46 L342.91,44.37 L343.85,44.29 L344.78,44.21 L345.72,44.13 L346.66,44.05 L347.59,43.97 L348.53,43.89 L349.47,43.82 L350.40,43.74 L351.34,43.66 L352.28,43.59 L353.22,43.51 L354.15,43.44 L355.09,43.36 L356.03,43.29 L356.96,43.22 L357.90,43.14 L358.84,43.07 L359.77,43.00 L360.71,42.93 L361.65,42.86 L362.58,42.78 L363.52,42.71 L364.46,42.64 L365.40,42.57 L366.33,42.50 L367.27,42.43 L368.21,42.36 L369.14,42.29 L370.08,42.22 L371.02,42.15 L371.95,42.08 L372.89,42.01 L373.83,41.94 L374.76,41.87 L375.70,41.80 L376.64,41.73 L377.57,41.66 L378.51,41.59 L379.45,41.53 L380.39,41.46 L381.32,41.39 L382.26,41.32 L383.20,41.25 L384.13,41.18 L385.07,41.11 L386.01,41.04 L386.94,40.97 L387.88,40.90 L388.82,40.83 L389.75,40.76 L390.69,40.69 L391.63,40.62 L392.57,40.55 L393.50,40.48 L394.44,40.41 L395.38,40.34 L396.31,40.27 L397.25,40.20 L398.19,40.12 L399.12,40.05 L400.06,39.97 L401.00,39.90 L401.93,39.82 L402.87,39.75 L403.81,39.67 L404.75,39.59 L405.68,39.51 L406.62,39.43 L407.56,39.35 L408.49,39.27 L409.43,39.19 L410.37,39.11 L411.30,39.02 L412.24,38.93 L413.18,38.85 L414.11,38.76 L415.05,38.67 L415.99,38.57 L416.93,38.48 L417.86,38.38 L418.80,38.28 L419.74,38.18 L420.67,38.08 L421.61,37.97 L422.55,37.86 L423.48,37.74 L424.42,37.63 L425.36,37.50 L426.29,37.37 L427.23,37.24 L428.17,37.10 L429.10,36.95 L430.04,36.79 L430.98,36.61 L431.92,36.42 L432.85,36.21 L433.79,35.96 L434.73,35.66 L435.66,35.24 L436.60,33.50" stroke="#9a9a9a" stroke-width="2.0" fill="none" stroke-dasharray="2.18 3.66" stroke-dashoffset="-5.4" />
</g>
<rect x="43.1" y="20.0" width="393.50" height="292.30" fill="none" stroke="#555" stroke-width="1.2"/>
<line x1="43.10" y1="312.3" x2="43.10" y2="316.2" stroke="#555" stroke-width="1.2"/><line x1="39.1" y1="312.30" x2="43.1" y2="312.30" stroke="#555" stroke-width="1.2"/><line x1="121.80" y1="312.3" x2="121.80" y2="316.2" stroke="#555" stroke-width="1.2"/><line x1="39.1" y1="256.54" x2="43.1" y2="256.54" stroke="#555" stroke-width="1.2"/><line x1="200.50" y1="312.3" x2="200.50" y2="316.2" stroke="#555" stroke-width="1.2"/><line x1="39.1" y1="200.78" x2="43.1" y2="200.78" stroke="#555" stroke-width="1.2"/><line x1="279.20" y1="312.3" x2="279.20" y2="316.2" stroke="#555" stroke-width="1.2"/><line x1="39.1" y1="145.02" x2="43.1" y2="145.02" stroke="#555" stroke-width="1.2"/><line x1="357.90" y1="312.3" x2="357.90" y2="316.2" stroke="#555" stroke-width="1.2"/><line x1="39.1" y1="89.26" x2="43.1" y2="89.26" stroke="#555" stroke-width="1.2"/><line x1="436.60" y1="312.3" x2="436.60" y2="316.2" stroke="#555" stroke-width="1.2"/><line x1="39.1" y1="33.50" x2="43.1" y2="33.50" stroke="#555" stroke-width="1.2"/>
<text x="34.61 41.48 45.11" y="328.75" font-size="11.66" >0.0</text><text x="17.49 24.36 27.99" y="316.75" font-size="11.66" >0.0</text><text x="113.50 120.36 123.85" y="328.75" font-size="11.66" >0.2</text><text x="17.86 24.73 28.21" y="260.99" font-size="11.66" >0.2</text><text x="191.95 198.82 202.45" y="328.75" font-size="11.66" >0.4</text><text x="17.38 24.24 27.87" y="205.23" font-size="11.66" >0.4</text><text x="270.69 277.56 281.19" y="328.75" font-size="11.66" >0.6</text><text x="17.45 24.32 27.95" y="149.47" font-size="11.66" >0.6</text><text x="349.42 356.29 359.92" y="328.75" font-size="11.66" >0.8</text><text x="17.51 24.38 28.01" y="93.71" font-size="11.66" >0.8</text><text x="427.81 434.74 438.36" y="328.75" font-size="11.66" >1.0</text><text x="17.43 24.36 27.99" y="37.95" font-size="11.66" >1.0</text>
<rect x="184.3" y="237.1" width="246.6" height="69.5" rx="2.5" fill="#fff" fill-opacity="0.8" stroke="#e2e2e2" stroke-width="1"/><line x1="188.5" y1="246.50" x2="210.8" y2="246.50" stroke="#111" stroke-width="2.0" stroke-linecap="square"/><text x="218.26 226.69 233.26 237.10 244.28 248.19 254.82 259.07 266.25 270.12 276.70 282.92 289.55 295.27 301.19 304.29 311.17 318.18 321.64 325.03 332.50 340.29 348.36 353.09 361.06 364.83 371.68 375.29 382.31" y="250.00" font-size="11.55" >No pre-processing: AUC = 0.74</text><line x1="188.0" y1="263.10" x2="211.6" y2="263.10" stroke="#777" stroke-width="2.0" stroke-dasharray="8.14 3.57"/><text x="217.99 224.22 231.79 239.49 242.36 250.46 253.91 261.22 267.59 275.95 279.42 282.88 290.40 298.26 306.36 311.15 319.16 322.99 329.88 333.54 340.59" y="266.60" font-size="11.55" >PABIC BFC: AUC = 0.77</text><line x1="188.0" y1="279.70" x2="211.6" y2="279.70" stroke="#8a8a8a" stroke-width="2.0" stroke-dasharray="14.06 3.56 2.18 3.56"/><text x="218.79 227.36 230.23 236.44 240.40 247.20 254.53 258.26 265.85 276.00 279.81 286.66 293.79 298.16 308.06 315.32 318.38 321.25 326.73 334.26 338.31 341.28 348.17 355.11 358.56 361.98 369.47 377.29 385.37 390.13 398.11 401.91 408.77 412.43 419.40" y="283.20" font-size="11.55" >Histogram normalization: AUC = 0.85</text><line x1="188.0" y1="296.30" x2="211.6" y2="296.30" stroke="#9a9a9a" stroke-width="2.0" stroke-dasharray="2.18 3.66"/><text x="219.18 225.99 228.53 235.57 241.76 245.79 248.93 255.09 259.12 263.03 269.81 276.81 279.67 285.85 290.18 293.89 301.40 305.43 308.38 315.24 322.15 325.60 328.99 336.45 344.23 352.30 357.02 364.99 368.75 375.59 379.22 386.21" y="299.80" font-size="11.55" >elastix registration: AUC = 0.84</text>
<text x="108.60 117.61 125.51 132.99 141.18 144.99 152.59 161.14 165.91 170.29 178.60 186.79 195.34 199.80 208.82 213.67 217.39 225.66 233.78 237.98 245.57 253.29 262.35 266.81 275.21 283.09 287.87 296.41 301.48 304.92 312.35 317.20 320.57 327.82 332.03 339.58 348.30 353.51 361.11" y="12.10" font-size="13.86" >Receiver operating characteristic curve</text>
<text x="186.35 191.91 199.28 202.23 208.23 214.90 218.16 225.04 231.81 237.84 241.24 245.36 248.63 255.10 261.77 265.22 272.68 280.34 284.42" y="343.70" font-size="11.65" >False Positive Rate</text>
<g transform="rotate(-90)"><text x="-217.19 -211.27 -206.95 -199.88 -193.21 -189.95 -183.07 -176.30 -170.27 -166.86 -162.74 -159.48 -153.01 -146.33 -142.88 -135.42 -127.77 -123.68" y="9.90" font-size="11.65" >True Positive Rate</text></g>
</svg>
</body></html>
